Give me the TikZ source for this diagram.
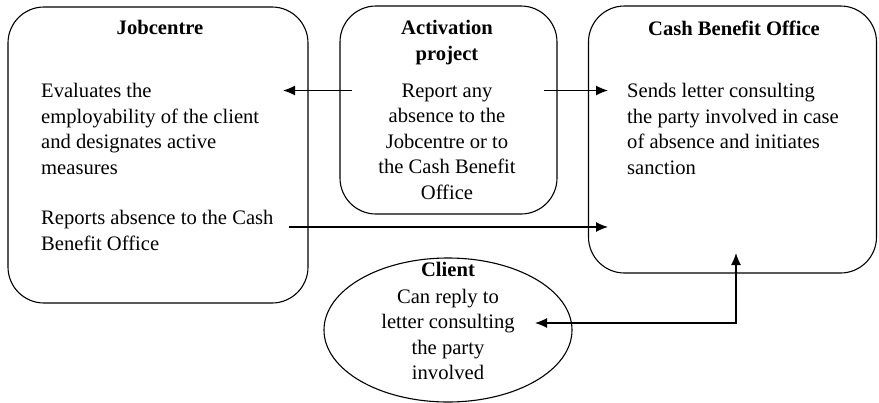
\documentclass[tikz,border=0pt]{standalone}
\usepackage{fontspec}
\setmainfont{Liberation Serif}
\usetikzlibrary{arrows.meta,shapes.geometric}
\begin{document}
\begin{tikzpicture}[x=1pt,y=-1pt,
  box/.style={draw,line width=1.1pt,rounded corners=36pt,inner sep=0pt},
  ttl/.style={font=\bfseries\fontsize{20.6}{25.8}\selectfont,inner sep=0pt,align=center},
  txt/.style={font=\fontsize{20.6}{25.5}\selectfont,inner sep=0pt},
  arr/.style={line width=1.2pt,-{Latex[length=12pt,width=10pt]}},
  darr/.style={line width=1.2pt,{Latex[length=12pt,width=10pt]}-{Latex[length=12pt,width=10pt]}}]
\useasboundingbox (0,0) rectangle (879,402);
% boxes
\node[box,minimum width=300pt,minimum height=296pt] (jc) at (158,155) {};
\node[box,minimum width=217pt,minimum height=208pt] (ap) at (448.5,110) {};
\node[box,minimum width=288pt,minimum height=267pt] (cb) at (732.5,139.5) {};
\node[draw,line width=1.1pt,ellipse,minimum width=248pt,minimum height=144pt,inner sep=0pt] (cl) at (448,330) {};
% titles
\node[ttl,anchor=north] (jct) at (160,20.5) {Jobcentre};
\node[ttl,anchor=north] (apt) at (447,20.5) {Activation\\project};
\node[ttl,anchor=north] (cbt) at (734,20.5) {Cash Benefit Office};
% texts
\node[txt,align=left,anchor=north west] (jcx) at (41,83.5) {Evaluates the\\employability of the client\\and designates active\\measures};
\node[txt,align=left,anchor=north west] (jcr) at (41,210.5) {Reports absence to the Cash\\Benefit Office};
\node[txt,align=center,anchor=north] (apx) at (447,83.5) {Report any\\absence to the\\Jobcentre or to\\the Cash Benefit\\Office};
\node[txt,align=left,anchor=north west] (cbx) at (627,83.5) {Sends letter consulting\\the party involved in case\\of absence and initiates\\sanction};
\node[txt,align=center,anchor=north] (clx) at (448,262.5) {\textbf{Client}\\[1pt]Can reply to\\letter consulting\\the party\\involved};
% connector ends
\coordinate (a1s) at (352,90.5);
\coordinate (a1e) at (283,90.5);
\coordinate (a2s) at (544,90.5);
\coordinate (a2e) at (608,90.5);
\coordinate (a3s) at (289,227);
\coordinate (a3e) at (608,227);
\coordinate (a4s) at (535,323);
\coordinate (a4c) at (736,323);
\coordinate (a4e) at (736,253);
\draw[arr] (a1s) -- (a1e);
\draw[arr] (a2s) -- (a2e);
\draw[arr] (a3s) -- (a3e);
\draw[darr] (a4s) -- (a4c) -- (a4e);
\end{tikzpicture}
\end{document}
